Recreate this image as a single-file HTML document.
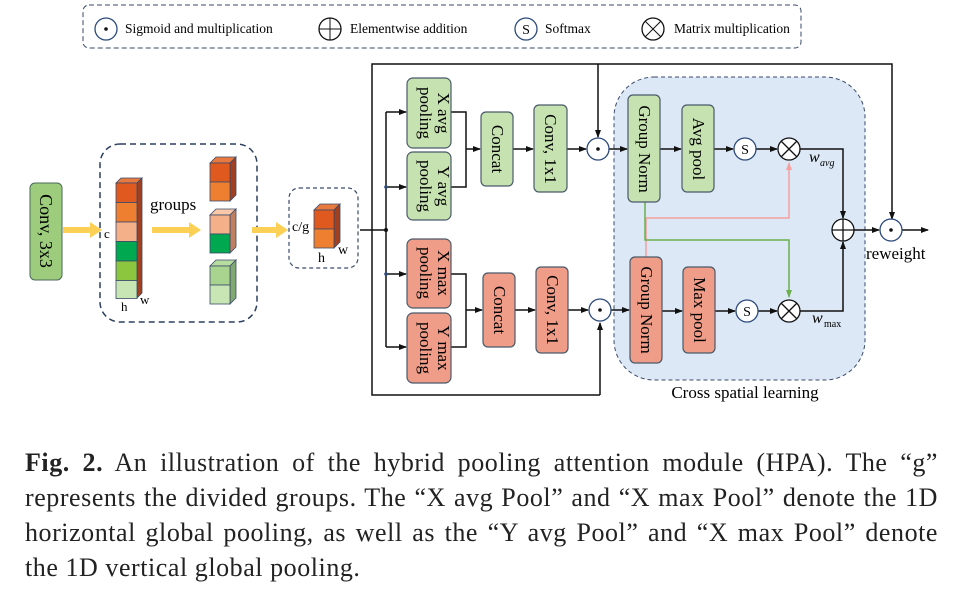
<!DOCTYPE html>
<html><head><meta charset="utf-8"><style>
body{margin:0;background:#fff;width:955px;height:604px;overflow:hidden}
svg{position:absolute;left:0;top:0}
.cap{position:absolute;left:25px;top:445px;width:913px;font:26px "Liberation Serif",serif;letter-spacing:0.55px;line-height:35px;color:#222}
.cap div{text-align:justify;text-align-last:justify;white-space:nowrap}
.cap div.l{text-align-last:left}
</style></head><body>
<svg width="955" height="440" viewBox="0 0 955 440" font-family="Liberation Serif, serif">
<defs>
<marker id="a" markerWidth="8" markerHeight="8" refX="7" refY="4" orient="auto" markerUnits="userSpaceOnUse"><path d="M0,1 L8,4 L0,7z" fill="#111"/></marker>
<marker id="ap" markerWidth="8" markerHeight="8" refX="7" refY="4" orient="auto" markerUnits="userSpaceOnUse"><path d="M0,1 L8,4 L0,7z" fill="#f4a0a0"/></marker>
<marker id="ag" markerWidth="8" markerHeight="8" refX="7" refY="4" orient="auto" markerUnits="userSpaceOnUse"><path d="M0,1 L8,4 L0,7z" fill="#6ab04c"/></marker>
</defs>
<rect x="83" y="5" width="718" height="43" rx="6" fill="none" stroke="#3a4a6a" stroke-dasharray="5,3"/>
<circle cx="106" cy="29" r="11" fill="none" stroke="#2c4a7a" stroke-width="1.3"/><circle cx="106" cy="29" r="1.8" fill="#111"/>
<text x="125" y="33" font-size="13.5">Sigmoid and multiplication</text>
<circle cx="330" cy="29" r="11" fill="none" stroke="#111" stroke-width="1.3"/><path d="M319,29h22M330,18v22" stroke="#111"/>
<text x="350" y="33" font-size="13.5">Elementwise addition</text>
<circle cx="526" cy="29" r="11" fill="none" stroke="#2c4a7a" stroke-width="1.3"/><text x="526" y="34" font-size="14" text-anchor="middle">S</text>
<text x="545" y="33" font-size="13.5">Softmax</text>
<circle cx="653" cy="29" r="11" fill="none" stroke="#111" stroke-width="1.3"/><path d="M645,21l16,16M661,21l-16,16" stroke="#111"/>
<text x="674" y="33" font-size="13.5">Matrix multiplication</text>

<rect x="30" y="183" width="32" height="97" rx="5" fill="#9ccc7c" stroke="#4a6a5a"/>
<text transform="translate(40,231) rotate(90)" font-size="18" text-anchor="middle">Conv, 3x3</text>
<path d="M63,230h30" stroke="#fcd054" stroke-width="6"/><path d="M90,222l12,8-12,8z" fill="#fcd054"/>
<rect x="100" y="144" width="157" height="178" rx="20" fill="none" stroke="#2c3e60" stroke-width="1.5" stroke-dasharray="6,4"/>
<g stroke="#3a4a6a" stroke-width="0.8">
<path d="M116,183l5,-5h21l-5,5z" fill="#e87a40"/>
<path d="M137,183l5,-5v115l-5,5z" fill="#a04020"/>
<rect x="116" y="183" width="21" height="19.5" fill="#e05a20"/>
<rect x="116" y="202.5" width="21" height="19.5" fill="#ef7f30"/>
<rect x="116" y="222" width="21" height="19.5" fill="#f4b088"/>
<rect x="116" y="241.5" width="21" height="19.5" fill="#00a850"/>
<rect x="116" y="261" width="21" height="19.5" fill="#8cc63f"/>
<rect x="116" y="280.5" width="21" height="18" fill="#c8e6b4"/>
</g>
<text x="104" y="238" font-size="13">c</text><text x="121" y="311" font-size="13">h</text><text x="140" y="304" font-size="13">w</text>
<text x="150" y="210" font-size="17">groups</text>
<path d="M152,230h40" stroke="#fcd054" stroke-width="6"/><path d="M189,222l12,8-12,8z" fill="#fcd054"/>
<g stroke="#3a4a6a" stroke-width="0.8">
<path d="M210,163l6,-6h20l-6,6z" fill="#e87a40"/><path d="M230,163l6,-6v38l-6,6z" fill="#a04020"/>
<rect x="210" y="163" width="20" height="19" fill="#e05a20"/><rect x="210" y="182" width="20" height="19" fill="#ef7f30"/>
<path d="M210,215l6,-6h20l-6,6z" fill="#f8c8a8"/><path d="M230,215l6,-6v38l-6,6z" fill="#c08060"/>
<rect x="210" y="215" width="20" height="19" fill="#f4b088"/><rect x="210" y="234" width="20" height="19" fill="#00a850"/>
<path d="M210,266l6,-6h20l-6,6z" fill="#b8dca0"/><path d="M230,266l6,-6v38l-6,6z" fill="#80a870"/>
<rect x="210" y="266" width="20" height="19" fill="#a8d490"/><rect x="210" y="285" width="20" height="19" fill="#c8e6b4"/>
</g>
<path d="M252,230h27" stroke="#fcd054" stroke-width="6"/><path d="M276,222l12,8-12,8z" fill="#fcd054"/>
<rect x="289" y="188" width="69" height="80" rx="10" fill="none" stroke="#3a4a6a" stroke-width="1.2" stroke-dasharray="4,3"/>
<g stroke="#3a4a6a" stroke-width="0.8">
<path d="M314,210l6,-6h20l-6,6z" fill="#e87a40"/><path d="M334,210l6,-6v38l-6,6z" fill="#a04020"/>
<rect x="314" y="210" width="20" height="19" fill="#e05a20"/><rect x="314" y="229" width="20" height="19" fill="#ef7f30"/>
</g>
<text x="292" y="231" font-size="14">c/g</text><text x="318" y="262" font-size="14">h</text><text x="338" y="254" font-size="14">w</text>

<g stroke="#111" stroke-width="1.5" fill="none">
<path d="M360,230h26"/>
<path d="M600,395H372V64H892V219" marker-end="url(#a)"/>
<path d="M386,112V347"/>
<path d="M386,112h20" marker-end="url(#a)"/><path d="M386,187h20" marker-end="url(#a)"/>
<path d="M386,274h20" marker-end="url(#a)"/><path d="M386,347h20" marker-end="url(#a)"/>
<path d="M451,112h15v75h-15"/><path d="M466,149h14" marker-end="url(#a)"/>
<path d="M451,274h15v73h-15"/><path d="M466,310h16" marker-end="url(#a)"/>
<path d="M513,149h20" marker-end="url(#a)"/><path d="M567,149h19" marker-end="url(#a)"/>
<path d="M515,310h20" marker-end="url(#a)"/><path d="M568,310h20" marker-end="url(#a)"/>
<path d="M598,64v73" marker-end="url(#a)"/><path d="M600,395v-72" marker-end="url(#a)"/>
</g>
<circle cx="386" cy="230" r="2" fill="#111"/><circle cx="386" cy="187" r="1.8" fill="#2c4a7a"/><circle cx="386" cy="274" r="1.8" fill="#2c4a7a"/>
<rect x="614" y="77" width="251" height="303" rx="40" fill="#dce8f5" stroke="#3a4a6a" stroke-dasharray="4,3"/>
<text x="745" y="398" font-size="17" text-anchor="middle">Cross spatial learning</text>
<g stroke="#111" stroke-width="1.5" fill="none">
<path d="M609,149h18" marker-end="url(#a)"/><path d="M611,310h18" marker-end="url(#a)"/>
<path d="M660,149h21" marker-end="url(#a)"/><path d="M714,149h19" marker-end="url(#a)"/><path d="M756,149h21" marker-end="url(#a)"/>
<path d="M662,311h20" marker-end="url(#a)"/><path d="M715,311h20" marker-end="url(#a)"/><path d="M758,311h19" marker-end="url(#a)"/>
<path d="M800,149h43v69" marker-end="url(#a)"/><path d="M800,311h43v-69" marker-end="url(#a)"/>
<path d="M854,230h25" marker-end="url(#a)"/><path d="M902,230h26" marker-end="url(#a)"/>
</g>
<path d="M646,257V218H789V163" stroke="#f4a0a0" stroke-width="1.5" fill="none" marker-end="url(#ap)"/>
<path d="M645,202V240H789V297" stroke="#6ab04c" stroke-width="1.5" fill="none" marker-end="url(#ag)"/>
<g font-size="17" text-anchor="middle">
<g stroke="#4a5a6a" stroke-width="1.2">
<rect x="407" y="78" width="44" height="70" rx="6" fill="#c6e2b0"/><rect x="407" y="152" width="44" height="68" rx="6" fill="#c6e2b0"/>
<rect x="407" y="239" width="44" height="69" rx="6" fill="#ef9c88"/><rect x="407" y="313" width="44" height="70" rx="6" fill="#ef9c88"/>
<rect x="481" y="112" width="32" height="74" rx="5" fill="#c6e2b0"/><rect x="534" y="105" width="33" height="87" rx="5" fill="#c6e2b0"/>
<rect x="483" y="273" width="32" height="74" rx="5" fill="#ef9c88"/><rect x="536" y="267" width="32" height="86" rx="5" fill="#ef9c88"/>
<rect x="628" y="95" width="32" height="107" rx="5" fill="#c6e2b0"/><rect x="682" y="105" width="32" height="87" rx="5" fill="#c6e2b0"/>
<rect x="630" y="257" width="32" height="106" rx="5" fill="#ef9c88"/><rect x="683" y="267" width="32" height="86" rx="5" fill="#ef9c88"/>
</g>
<text transform="translate(438,113) rotate(90)">X avg</text><text transform="translate(420,113) rotate(90)">pooling</text>
<text transform="translate(438,186) rotate(90)">Y avg</text><text transform="translate(420,186) rotate(90)">pooling</text>
<text transform="translate(438,273) rotate(90)">X max</text><text transform="translate(420,273) rotate(90)">pooling</text>
<text transform="translate(438,348) rotate(90)">Y max</text><text transform="translate(420,348) rotate(90)">pooling</text>
<text transform="translate(492,149) rotate(90)">Concat</text><text transform="translate(545,149) rotate(90)">Conv, 1x1</text>
<text transform="translate(494,310) rotate(90)">Concat</text><text transform="translate(547,310) rotate(90)">Conv, 1x1</text>
<text transform="translate(639,149) rotate(90)">Group Norm</text><text transform="translate(693,149) rotate(90)">Avg pool</text>
<text transform="translate(641,310) rotate(90)">Group Norm</text><text transform="translate(694,310) rotate(90)">Max pool</text>
</g>
<g fill="#fff" stroke="#2c4a7a" stroke-width="1.3">
<circle cx="598" cy="149" r="11"/><circle cx="600" cy="310" r="11"/><circle cx="891" cy="230" r="11"/>
<circle cx="745" cy="149" r="11"/><circle cx="747" cy="311" r="11"/>
</g>
<circle cx="598" cy="149" r="1.8" fill="#111"/><circle cx="600" cy="310" r="1.8" fill="#111"/><circle cx="891" cy="230" r="1.8" fill="#111"/>
<text x="745" y="154" font-size="14" text-anchor="middle">S</text><text x="747" y="316" font-size="14" text-anchor="middle">S</text>
<g stroke="#111" stroke-width="1.3" fill="#fff">
<circle cx="789" cy="149" r="11"/><circle cx="789" cy="311" r="11"/><circle cx="843" cy="230" r="11"/>
</g>
<path d="M781,141l16,16M797,141l-16,16M781,303l16,16M797,303l-16,16M832,230h22M843,219v22" stroke="#111" stroke-width="1.3"/>
<text x="809" y="162" font-size="16" font-style="italic">w</text><text x="820" y="166" font-size="10" font-style="italic">avg</text>
<text x="812" y="323" font-size="16" font-style="italic">w</text><text x="824" y="327" font-size="10">max</text>
<text x="866" y="259" font-size="17">reweight</text>
</svg>
<div class="cap">
<div><b>Fig. 2.</b> An illustration of the hybrid pooling attention module (HPA). The “g”</div>
<div>represents the divided groups. The “X avg Pool” and “X max Pool” denote the 1D</div>
<div>horizontal global pooling, as well as the “Y avg Pool” and “X max Pool” denote</div>
<div class="l">the 1D vertical global pooling.</div>
</div>
</body></html>
